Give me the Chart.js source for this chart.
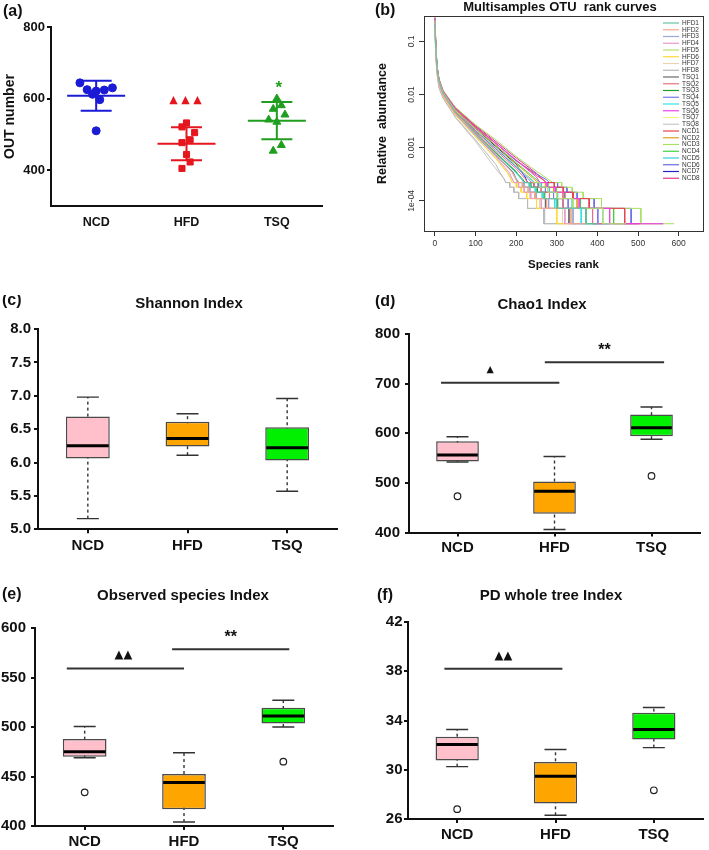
<!DOCTYPE html>
<html>
<head>
<meta charset="utf-8">
<script src="https://cdn.jsdelivr.net/npm/chart.js@4.4.0/dist/chart.umd.min.js"></script>
<style>
html, body { margin:0; padding:0; background:#fff; }
body { width:709px; height:850px; position:relative; overflow:hidden; }
canvas { position:absolute; }
</style>
</head>
<body>
<canvas id="cA" width="340" height="240" style="left:0px;top:0px"></canvas>
<canvas id="cB" width="359" height="280" style="left:350px;top:0px"></canvas>
<canvas id="cC" width="345" height="265" style="left:0px;top:295px"></canvas>
<canvas id="cD" width="359" height="265" style="left:350px;top:295px"></canvas>
<canvas id="cE" width="345" height="265" style="left:0px;top:585px"></canvas>
<canvas id="cF" width="359" height="265" style="left:350px;top:585px"></canvas>
<script>
const groups = ['NCD', 'HFD', 'TSQ'];
const boxColors = ['#ffc0cb', '#ffa500', '#00f000'];

// (a) OTU number per mouse
const otuNCD = [644, 625, 621, 624, 630, 612, 597, 510];
const otuHFD = [532, 521, 505, 485, 477, 444, 423, 405];
const otuTSQ = [600, 571, 581, 555, 541, 535, 470, 454];
// horizontal spread of the dots inside each column (category units)
const jitNCD = [-0.18, -0.1, 0, 0.09, 0.18, -0.04, 0.04, 0];
const jitHFD = [0, -0.05, 0.09, 0.04, -0.05, 0, 0.04, -0.05];
const jitTSQ = [0, -0.04, 0.05, 0.09, -0.09, 0, 0.05, -0.04];
const otuTicks = [400, 600, 800];

// (b) rank abundance curves, [rank, relative abundance]
const sampleNames = ['HFD1','HFD2','HFD3','HFD4','HFD5','HFD6','HFD7','HFD8',
  'TSQ1','TSQ2','TSQ3','TSQ4','TSQ5','TSQ6','TSQ7','TSQ8',
  'NCD1','NCD2','NCD3','NCD4','NCD5','NCD6','NCD7','NCD8'];
const sampleColors = ['#66c2a5','#f7a88a','#9aa8d8','#e99ad0','#b2e06e','#ffd92f','#ecd2b4','#b8b8b8',
  '#6a6a6a','#e8727a','#1f9e2a','#7777ee','#33e3e3','#f040f0','#f6f08a','#c8c8c8',
  '#e8434b','#e0a020','#a8e060','#40d040','#30d0e0','#6a6ae6','#2424c8','#e0388a'];
const HFD1 = [[0,0.2],[2,0.07],[5,0.03],[10,0.017],[20,0.0105],[50,0.0047],[100,0.0019],[150,0.00082],[200,0.00036],[212,2.6e-4],[220,2.2e-4],[234,2.2e-4],[234,1.8e-4],[250,1.8e-4],[250,1.45e-4],[268,1.45e-4],[268,1.1e-4],[300,1.1e-4],[300,7.2e-5],[372,7.2e-5],[372,3.7e-5],[400,3.7e-5]];
const HFD2 = [[0,0.18],[2,0.065],[5,0.028],[10,0.016],[20,0.0098],[50,0.0045],[100,0.0018],[150,0.00075],[190,0.00034],[198,2.6e-4],[203,2.2e-4],[215,2.2e-4],[215,1.8e-4],[230,1.8e-4],[230,1.45e-4],[246,1.45e-4],[246,1.1e-4],[275,1.1e-4],[275,7.2e-5],[335,7.2e-5],[335,3.7e-5],[372,3.7e-5]];
const HFD3 = [[0,0.22],[2,0.075],[5,0.03],[10,0.017],[20,0.01],[50,0.0044],[100,0.0017],[150,0.0007],[190,0.00035],[200,2.6e-4],[207,2.2e-4],[220,2.2e-4],[220,1.8e-4],[234,1.8e-4],[234,1.45e-4],[250,1.45e-4],[250,1.1e-4],[280,1.1e-4],[280,7.2e-5],[340,7.2e-5],[340,3.7e-5],[380,3.7e-5]];
const HFD4 = [[0,0.16],[2,0.06],[5,0.027],[10,0.015],[20,0.0095],[50,0.0043],[100,0.0017],[150,0.00068],[183,0.00034],[190,2.6e-4],[195,2.2e-4],[206,2.2e-4],[206,1.8e-4],[220,1.8e-4],[220,1.45e-4],[236,1.45e-4],[236,1.1e-4],[262,1.1e-4],[262,7.2e-5],[320,7.2e-5],[320,3.7e-5],[350,3.7e-5]];
const HFD5 = [[0,0.25],[2,0.08],[5,0.032],[10,0.018],[20,0.011],[50,0.005],[100,0.0022],[150,0.001],[200,0.00046],[232,2.7e-4],[242,2.2e-4],[258,2.2e-4],[258,1.8e-4],[278,1.8e-4],[278,1.45e-4],[300,1.45e-4],[300,1.1e-4],[340,1.1e-4],[340,7.2e-5],[413,7.2e-5],[413,3.7e-5],[470,3.7e-5]];
const HFD6 = [[0,0.17],[2,0.06],[5,0.026],[10,0.015],[20,0.0092],[50,0.0041],[100,0.0016],[150,0.00062],[178,0.00034],[186,2.6e-4],[190,2.2e-4],[200,2.2e-4],[200,1.8e-4],[212,1.8e-4],[212,1.45e-4],[226,1.45e-4],[226,1.1e-4],[250,1.1e-4],[250,7.2e-5],[300,7.2e-5],[300,3.7e-5],[330,3.7e-5]];
const HFD7 = [[0,0.19],[2,0.068],[5,0.028],[10,0.016],[20,0.0096],[50,0.0042],[100,0.0016],[150,0.00064],[180,0.00034],[190,2.6e-4],[194,2.2e-4],[205,2.2e-4],[205,1.8e-4],[218,1.8e-4],[218,1.45e-4],[234,1.45e-4],[234,1.1e-4],[258,1.1e-4],[258,7.2e-5],[314,7.2e-5],[314,3.7e-5],[345,3.7e-5]];
const HFD8 = [[0,0.15],[2,0.055],[5,0.024],[10,0.013],[20,0.0085],[50,0.0038],[100,0.0014],[150,0.00048],[160,0.00034],[170,2.6e-4],[174,2.2e-4],[184,2.2e-4],[184,1.8e-4],[194,1.8e-4],[194,1.45e-4],[206,1.45e-4],[206,1.1e-4],[228,1.1e-4],[228,7.2e-5],[268,7.2e-5],[268,3.7e-5],[315,3.7e-5]];
const TSQ1 = [[0,0.21],[2,0.07],[5,0.029],[10,0.016],[20,0.0098],[50,0.0045],[100,0.0018],[150,0.00074],[192,0.00035],[200,2.6e-4],[204,2.2e-4],[216,2.2e-4],[216,1.8e-4],[230,1.8e-4],[230,1.45e-4],[246,1.45e-4],[246,1.1e-4],[272,1.1e-4],[272,7.2e-5],[330,7.2e-5],[330,3.7e-5],[372,3.7e-5]];
const TSQ2 = [[0,0.24],[2,0.078],[5,0.031],[10,0.017],[20,0.0104],[50,0.0048],[100,0.002],[150,0.00088],[200,0.0004],[222,2.6e-4],[228,2.2e-4],[244,2.2e-4],[244,1.8e-4],[262,1.8e-4],[262,1.45e-4],[282,1.45e-4],[282,1.1e-4],[316,1.1e-4],[316,7.2e-5],[388,7.2e-5],[388,3.7e-5],[420,3.7e-5]];
const TSQ3 = [[0,0.2],[2,0.07],[5,0.03],[10,0.017],[20,0.01],[50,0.0046],[100,0.0019],[150,0.0008],[198,0.00036],[215,2.6e-4],[222,2.2e-4],[236,2.2e-4],[236,1.8e-4],[252,1.8e-4],[252,1.45e-4],[270,1.45e-4],[270,1.1e-4],[302,1.1e-4],[302,7.2e-5],[372,7.2e-5],[372,3.7e-5],[400,3.7e-5]];
const TSQ4 = [[0,0.26],[2,0.082],[5,0.033],[10,0.018],[20,0.011],[50,0.005],[100,0.0021],[150,0.00095],[200,0.00043],[230,2.6e-4],[238,2.2e-4],[254,2.2e-4],[254,1.8e-4],[272,1.8e-4],[272,1.45e-4],[292,1.45e-4],[292,1.1e-4],[328,1.1e-4],[328,7.2e-5],[401,7.2e-5],[401,3.7e-5],[430,3.7e-5]];
const TSQ5 = [[0,0.22],[2,0.072],[5,0.03],[10,0.016],[20,0.0098],[50,0.0045],[100,0.0018],[150,0.00078],[196,0.00036],[212,2.6e-4],[219,2.2e-4],[232,2.2e-4],[232,1.8e-4],[247,1.8e-4],[247,1.45e-4],[264,1.45e-4],[264,1.1e-4],[295,1.1e-4],[295,7.2e-5],[360,7.2e-5],[360,3.7e-5],[410,3.7e-5]];
const TSQ6 = [[0,0.28],[2,0.09],[5,0.034],[10,0.019],[20,0.0115],[50,0.0054],[100,0.0024],[150,0.0012],[200,0.00058],[250,2.8e-4],[258,2.2e-4],[276,2.2e-4],[276,1.8e-4],[296,1.8e-4],[296,1.45e-4],[318,1.45e-4],[318,1.1e-4],[355,1.1e-4],[355,7.2e-5],[430,7.2e-5],[430,3.7e-5],[562,3.7e-5]];
const TSQ7 = [[0,0.17],[2,0.062],[5,0.026],[10,0.015],[20,0.0093],[50,0.0042],[100,0.0016],[150,0.00062],[178,0.00034],[188,2.6e-4],[194,2.2e-4],[205,2.2e-4],[205,1.8e-4],[218,1.8e-4],[218,1.45e-4],[234,1.45e-4],[234,1.1e-4],[258,1.1e-4],[258,7.2e-5],[314,7.2e-5],[314,3.7e-5],[335,3.7e-5]];
const TSQ8 = [[0,0.16],[2,0.058],[5,0.025],[10,0.014],[20,0.0086],[50,0.0037],[100,0.0013],[140,0.0005],[160,0.00032],[170,2.6e-4],[175,2.2e-4],[184,2.2e-4],[184,1.8e-4],[194,1.8e-4],[194,1.45e-4],[206,1.45e-4],[206,1.1e-4],[228,1.1e-4],[228,7.2e-5],[270,7.2e-5],[270,3.7e-5],[320,3.7e-5]];
const NCD1 = [[0,0.27],[2,0.088],[5,0.034],[10,0.019],[20,0.0115],[50,0.0055],[100,0.0025],[150,0.0012],[200,0.00058],[250,3e-4],[266,2.5e-4],[274,2.2e-4],[294,2.2e-4],[294,1.8e-4],[316,1.8e-4],[316,1.45e-4],[340,1.45e-4],[340,1.1e-4],[380,1.1e-4],[380,7.2e-5],[467,7.2e-5],[467,3.7e-5],[505,3.7e-5]];
const NCD2 = [[0,0.25],[2,0.082],[5,0.032],[10,0.018],[20,0.011],[50,0.0052],[100,0.0023],[150,0.0011],[200,0.0005],[240,2.7e-4],[254,2.2e-4],[272,2.2e-4],[272,1.8e-4],[292,1.8e-4],[292,1.45e-4],[314,1.45e-4],[314,1.1e-4],[350,1.1e-4],[350,7.2e-5],[430,7.2e-5],[430,3.7e-5],[470,3.7e-5]];
const NCD3 = [[0,0.3],[2,0.095],[5,0.036],[10,0.02],[20,0.012],[50,0.0058],[100,0.0027],[150,0.0014],[200,0.00068],[250,3.6e-4],[280,2.5e-4],[290,2.2e-4],[312,2.2e-4],[312,1.8e-4],[338,1.8e-4],[338,1.45e-4],[365,1.45e-4],[365,1.1e-4],[410,1.1e-4],[410,7.2e-5],[507,7.2e-5],[507,3.7e-5],[589,3.7e-5]];
const NCD4 = [[0,0.26],[2,0.085],[5,0.033],[10,0.018],[20,0.0112],[50,0.0053],[100,0.0024],[150,0.0011],[200,0.00052],[245,2.7e-4],[260,2.2e-4],[278,2.2e-4],[278,1.8e-4],[298,1.8e-4],[298,1.45e-4],[320,1.45e-4],[320,1.1e-4],[358,1.1e-4],[358,7.2e-5],[440,7.2e-5],[440,3.7e-5],[485,3.7e-5]];
const NCD5 = [[0,0.23],[2,0.078],[5,0.031],[10,0.017],[20,0.0105],[50,0.0049],[100,0.0021],[150,0.00095],[200,0.00044],[236,2.6e-4],[246,2.2e-4],[262,2.2e-4],[262,1.8e-4],[282,1.8e-4],[282,1.45e-4],[302,1.45e-4],[302,1.1e-4],[338,1.1e-4],[338,7.2e-5],[413,7.2e-5],[413,3.7e-5],[470,3.7e-5]];
const NCD6 = [[0,0.27],[2,0.088],[5,0.034],[10,0.019],[20,0.0113],[50,0.0054],[100,0.0025],[150,0.0012],[200,0.00056],[250,3.2e-4],[274,2.5e-4],[282,2.2e-4],[302,2.2e-4],[302,1.8e-4],[325,1.8e-4],[325,1.45e-4],[350,1.45e-4],[350,1.1e-4],[392,1.1e-4],[392,7.2e-5],[483,7.2e-5],[483,3.7e-5],[500,3.7e-5]];
const NCD7 = [[0,0.24],[2,0.08],[5,0.032],[10,0.018],[20,0.011],[50,0.0051],[100,0.0023],[150,0.00105],[200,0.00049],[222,2.8e-4],[228,2.2e-4],[244,2.2e-4],[244,1.8e-4],[262,1.8e-4],[262,1.45e-4],[282,1.45e-4],[282,1.1e-4],[316,1.1e-4],[316,7.2e-5],[388,7.2e-5],[388,3.7e-5],[430,3.7e-5]];
const NCD8 = [[0,0.28],[2,0.092],[5,0.035],[10,0.019],[20,0.0118],[50,0.0057],[100,0.0026],[150,0.0013],[200,0.00064],[250,3.3e-4],[266,2.5e-4],[274,2.2e-4],[294,2.2e-4],[294,1.8e-4],[316,1.8e-4],[316,1.45e-4],[340,1.45e-4],[340,1.1e-4],[380,1.1e-4],[380,7.2e-5],[467,7.2e-5],[467,3.7e-5],[562,3.7e-5]];
const rankCurves = [HFD1,HFD2,HFD3,HFD4,HFD5,HFD6,HFD7,HFD8,TSQ1,TSQ2,TSQ3,TSQ4,TSQ5,TSQ6,TSQ7,TSQ8,NCD1,NCD2,NCD3,NCD4,NCD5,NCD6,NCD7,NCD8];
const rankTicks = [0, 100, 200, 300, 400, 500, 600];
const abundTicks = [1e-4, 1e-3, 1e-2, 0.1];
const abundLabels = ['1e-04', '0.001', '0.01', '0.1'];

// (c) Shannon
const shMin = [5.16, 6.11, 5.57];
const shQ1 = [6.06, 6.24, 6.03];
const shMed = [6.25, 6.36, 6.22];
const shQ3 = [6.69, 6.61, 6.53];
const shMax = [6.98, 6.73, 6.96];
const shOut = [null, null, null];
const shTicks = [5, 5.5, 6, 6.5, 7, 7.5, 8];

// (d) Chao1
const chMin = [542, 406, 588];
const chQ1 = [543, 438, 594];
const chMed = [556, 483, 611];
const chQ3 = [584, 503, 638];
const chMax = [593, 553, 653];
const chOut = [473, null, 514];
const chTicks = [400, 500, 600, 700, 800];

// (e) Observed species
const obMin = [469, 404, 500];
const obQ1 = [470, 417, 503.5];
const obMed = [475, 444, 511];
const obQ3 = [488, 452.5, 519.5];
const obMax = [500.5, 474, 527];
const obOut = [434, null, 465];
const obTicks = [400, 450, 500, 550, 600];

// (f) PD whole tree
const pdMin = [30.25, 26.3, 31.8];
const pdQ1 = [30.76, 27.25, 32.46];
const pdMed = [32.05, 29.48, 33.27];
const pdQ3 = [32.68, 30.62, 34.62];
const pdMax = [33.27, 31.65, 35.05];
const pdOut = [26.8, null, 28.33];
const pdTicks = [26, 30, 34, 38, 42];

Chart.defaults.font.family = '"Liberation Sans", Arial, sans-serif';
Chart.defaults.color = '#111';

const BOLD = '"Liberation Sans", Arial, sans-serif';
const TRI = '"DejaVu Sans", sans-serif';

// panel letter and title
Chart.register({
  id: 'panel',
  afterDraw(chart, args, o) {
    if (!o.letter) return;
    const ctx = chart.ctx;
    ctx.save();
    ctx.fillStyle = '#111';
    ctx.textBaseline = 'middle';
    ctx.textAlign = 'left';
    ctx.font = 'bold 16px ' + BOLD;
    ctx.fillText(o.letter, o.lx, o.ly);
    if (o.title) {
      ctx.textAlign = 'center';
      ctx.font = 'bold ' + (o.size || 15) + 'px ' + BOLD;
      ctx.fillText(o.title, o.tx, o.ty);
    }
    ctx.restore();
  }
});

// whiskers, caps and medians for the box plots
Chart.register({
  id: 'boxExtras',
  beforeDatasetsDraw(chart, args, o) {
    if (!o.min) return;
    const {ctx, scales: {x, y}} = chart;
    ctx.save();
    ctx.strokeStyle = '#333';
    ctx.lineWidth = 1.4;
    o.min.forEach((lo, i) => {
      const cx = x.getPixelForValue(i);
      const y0 = y.getPixelForValue(lo), y1 = y.getPixelForValue(o.max[i]);
      ctx.setLineDash([3, 3]);
      ctx.beginPath(); ctx.moveTo(cx, y0); ctx.lineTo(cx, y1); ctx.stroke();
      ctx.setLineDash([]);
      ctx.beginPath();
      ctx.moveTo(cx - 11, y0); ctx.lineTo(cx + 11, y0);
      ctx.moveTo(cx - 11, y1); ctx.lineTo(cx + 11, y1);
      ctx.stroke();
    });
    ctx.restore();
  },
  afterDatasetsDraw(chart, args, o) {
    if (!o.med) return;
    const {ctx, scales: {x, y}} = chart;
    const bars = chart.getDatasetMeta(1).data;
    ctx.save();
    ctx.strokeStyle = '#000';
    ctx.lineWidth = 3;
    o.med.forEach((m, i) => {
      const cx = x.getPixelForValue(i), w = bars[i].width / 2 - 1;
      const py = y.getPixelForValue(m);
      ctx.beginPath(); ctx.moveTo(cx - w, py); ctx.lineTo(cx + w, py); ctx.stroke();
    });
    ctx.restore();
  }
});

// significance bars and marks
Chart.register({
  id: 'sigBars',
  afterDatasetsDraw(chart, args, o) {
    if (!o.items) return;
    const {ctx, scales: {x, y}} = chart;
    o.items.forEach(it => {
      const py = y.getPixelForValue(it.y);
      let cx;
      ctx.save();
      if (it.to !== undefined) {
        const x0 = x.getPixelForValue(it.from), x1 = x.getPixelForValue(it.to);
        ctx.strokeStyle = '#333';
        ctx.lineWidth = 2;
        ctx.beginPath(); ctx.moveTo(x0, py); ctx.lineTo(x1, py); ctx.stroke();
        cx = (x0 + x1) / 2;
      } else {
        cx = x.getPixelForValue(it.at);
      }
      ctx.fillStyle = it.color || '#111';
      ctx.font = it.font;
      ctx.textAlign = 'center';
      ctx.textBaseline = 'alphabetic';
      ctx.fillText(it.label, cx + (it.dx || 0), py - it.dy);
      ctx.restore();
    });
  }
});

// mean and SD bars for panel (a)
Chart.register({
  id: 'meanSd',
  afterDatasetsDraw(chart, args, o) {
    if (!o.sets) return;
    const {ctx, scales: {x, y}} = chart;
    o.sets.forEach((s, i) => {
      const v = s.values, n = v.length;
      const mean = v.reduce((a, b) => a + b, 0) / n;
      const sd = Math.sqrt(v.reduce((a, b) => a + (b - mean) * (b - mean), 0) / (n - 1));
      const cx = x.getPixelForValue(i + 1);
      const pm = y.getPixelForValue(mean), pt = y.getPixelForValue(mean + sd), pb = y.getPixelForValue(mean - sd);
      ctx.save();
      ctx.strokeStyle = s.color;
      ctx.lineWidth = 2;
      ctx.beginPath();
      ctx.moveTo(cx - 29, pm); ctx.lineTo(cx + 29, pm);
      ctx.moveTo(cx - 15.5, pt); ctx.lineTo(cx + 15.5, pt);
      ctx.moveTo(cx - 15.5, pb); ctx.lineTo(cx + 15.5, pb);
      ctx.moveTo(cx, pt); ctx.lineTo(cx, pb);
      ctx.stroke();
      ctx.restore();
    });
  }
});

// legend inside the plot and the box frame for panel (b)
Chart.register({
  id: 'rankLegend',
  afterDraw(chart, args, o) {
    if (!o.names) return;
    const {ctx, chartArea: a} = chart;
    ctx.save();
    ctx.strokeStyle = '#333';
    ctx.lineWidth = 1;
    ctx.strokeRect(a.left + 0.5, a.top + 0.5, a.right - a.left, a.bottom - a.top);
    ctx.font = '6.5px ' + BOLD;
    ctx.textBaseline = 'middle';
    ctx.textAlign = 'left';
    o.names.forEach((n, i) => {
      const yy = o.y + i * o.step;
      ctx.strokeStyle = o.colors[i];
      ctx.lineWidth = 1.2;
      ctx.beginPath(); ctx.moveTo(o.x, yy); ctx.lineTo(o.x + 16, yy); ctx.stroke();
      ctx.fillStyle = '#333';
      ctx.fillText(n, o.x + 19, yy);
    });
    ctx.restore();
  }
});

// ---------- (a) ----------
function pts(vals, jit, center) {
  return vals.map((v, i) => ({x: center + jit[i], y: v}));
}
new Chart(document.getElementById('cA'), {
  type: 'scatter',
  data: {
    datasets: [
      {data: pts(otuNCD, jitNCD, 1), pointStyle: 'circle', pointRadius: 4, backgroundColor: '#1b1bd6', borderColor: '#1b1bd6'},
      {data: pts(otuHFD, jitHFD, 2), pointStyle: 'rect', pointRadius: 4.3, backgroundColor: '#e5161e', borderColor: '#e5161e'},
      {data: pts(otuTSQ, jitTSQ, 3), pointStyle: 'triangle', pointRadius: 4.6, backgroundColor: '#1f9e1f', borderColor: '#1f9e1f'}
    ]
  },
  options: {
    responsive: false,
    animation: false,
    layout: {padding: {top: 27, right: 18, left: 0, bottom: 0}},
    plugins: {
      legend: {display: false},
      tooltip: {enabled: false},
      panel: {letter: '(a)', lx: 3, ly: 12},
      meanSd: {sets: [
        {values: otuNCD, color: '#1b1bd6'},
        {values: otuHFD, color: '#e5161e'},
        {values: otuTSQ, color: '#1f9e1f'}
      ]},
      sigBars: {items: [
        {at: 2, y: 600, label: '▲ ▲ ▲', font: '11px ' + TRI, color: '#e5161e', dy: -4, dx: -1},
        {at: 3, y: 642, label: '*', font: 'bold 17px ' + BOLD, color: '#1f9e1f', dy: -9, dx: 2}
      ]}
    },
    scales: {
      x: {
        type: 'linear', min: 0.5, max: 3.5,
        afterBuildTicks: s => { s.ticks = [1, 2, 3].map(v => ({value: v})); },
        ticks: {callback: v => groups[v - 1], font: {size: 12.5, weight: 'bold'}, color: '#111', padding: 1},
        grid: {display: false},
        border: {color: '#111', width: 2},
        afterFit: s => { s.height = 34; }
      },
      y: {
        min: 300, max: 800,
        afterBuildTicks: s => { s.ticks = otuTicks.map(v => ({value: v})); },
        ticks: {font: {size: 13, weight: 'bold'}, color: '#111', padding: 2},
        grid: {drawOnChartArea: false, tickLength: 4, color: '#111', lineWidth: 2},
        border: {color: '#111', width: 2},
        title: {display: true, text: 'OUT number', font: {size: 14, weight: 'bold'}, color: '#111', padding: {top: 2, bottom: 0}},
        afterFit: s => { s.width = 51; }
      }
    }
  }
});

// ---------- (b) ----------
new Chart(document.getElementById('cB'), {
  type: 'scatter',
  data: {
    datasets: rankCurves.map((c, i) => ({
      label: sampleNames[i],
      data: c.map(p => ({x: p[0], y: p[1]})),
      showLine: true,
      borderColor: sampleColors[i],
      borderWidth: 1,
      pointRadius: 0,
      tension: 0
    }))
  },
  options: {
    responsive: false,
    animation: false,
    layout: {padding: {top: 16, right: 6, left: 0, bottom: 0}},
    plugins: {
      legend: {display: false},
      tooltip: {enabled: false},
      panel: {letter: '(b)', lx: 25, ly: 11, title: 'Multisamples OTU  rank curves', tx: 210, ty: 7, size: 13},
      rankLegend: {names: sampleNames, colors: sampleColors, x: 313, y: 23, step: 6.75}
    },
    scales: {
      x: {
        type: 'linear', min: -27, max: 660,
        afterBuildTicks: s => { s.ticks = rankTicks.map(v => ({value: v})); },
        ticks: {font: {size: 8.5}, color: '#333', padding: 3},
        grid: {drawOnChartArea: false, tickLength: 5, color: '#333'},
        border: {display: false},
        title: {display: true, text: 'Species rank', font: {size: 11.5, weight: 'bold'}, color: '#111', padding: {top: 0, bottom: 8}},
        afterFit: s => { s.height = 49; }
      },
      y: {
        type: 'logarithmic', min: 2.7e-5, max: 0.3,
        afterBuildTicks: s => { s.ticks = abundTicks.map(v => ({value: v})); },
        ticks: {callback: (v, i) => abundLabels[i], font: {size: 8.5}, color: '#333', minRotation: 90, maxRotation: 90, crossAlign: 'center', padding: -4},
        grid: {drawOnChartArea: false, tickLength: 5, color: '#333'},
        border: {display: false},
        title: {display: true, text: 'Relative  abundance', font: {size: 12.5, weight: 'bold'}, color: '#111', padding: {top: 25, bottom: 0}},
        afterFit: s => { s.width = 74; }
      }
    }
  }
});

// ---------- box plots ----------
function boxChart(id, st, o) {
  return new Chart(document.getElementById(id), {
    type: 'bar',
    data: {
      labels: groups,
      datasets: [
        {type: 'line', data: st.out, showLine: false, pointRadius: 3.3, pointBorderWidth: 1.2,
         pointBackgroundColor: '#fff', pointBorderColor: '#222', order: 0},
        {data: st.q1.map((v, i) => [v, st.q3[i]]), backgroundColor: boxColors, borderColor: '#4a4a4a',
         borderWidth: 1.5, borderSkipped: false, barPercentage: 0.44, categoryPercentage: 1, order: 1}
      ]
    },
    options: {
      responsive: false,
      animation: false,
      layout: {padding: {top: o.top, right: o.right, left: 0, bottom: 0}},
      plugins: {
        legend: {display: false},
        tooltip: {enabled: false},
        panel: o.panel,
        boxExtras: {min: st.min, med: st.med, max: st.max},
        sigBars: {items: o.sig}
      },
      scales: {
        x: {
          grid: {offset: false, drawOnChartArea: false, tickLength: 4, color: '#111', lineWidth: 2},
          border: {color: '#111', width: 2},
          ticks: {font: {size: 15, weight: 'bold'}, color: '#111', padding: o.xpad},
          afterFit: s => { s.height = o.xh; }
        },
        y: {
          min: o.ticks[0], max: o.ticks[o.ticks.length - 1],
          afterBuildTicks: s => { s.ticks = o.ticks.map(v => ({value: v})); },
          ticks: {callback: v => v.toFixed(o.dec), font: {size: 15, weight: 'bold'}, color: '#111', padding: o.ypad},
          grid: {drawOnChartArea: false, tickLength: 4, color: '#111', lineWidth: 2},
          border: {color: '#111', width: 2},
          afterFit: s => { s.width = o.yw; }
        }
      }
    }
  });
}

boxChart('cC', {min: shMin, q1: shQ1, med: shMed, q3: shQ3, max: shMax, out: shOut}, {
  top: 34, right: 8, xh: 30.7, yw: 38, xpad: 3.5, ypad: 3, dec: 1, ticks: shTicks,
  panel: {letter: '(c)', lx: 2, ly: 6, title: 'Shannon Index', tx: 189, ty: 9},
  sig: []
});

boxChart('cD', {min: chMin, q1: chQ1, med: chMed, q3: chQ3, max: chMax, out: chOut}, {
  top: 39, right: 9, xh: 27.5, yw: 59, xpad: 2.5, ypad: 5, dec: 0, ticks: chTicks,
  panel: {letter: '(d)', lx: 25, ly: 7, title: 'Chao1 Index', tx: 192, ty: 10},
  sig: [
    {from: -0.17, to: 1.05, y: 702, label: '▲', font: '9.5px ' + TRI, dy: 11, dx: -10},
    {from: 0.9, to: 2.13, y: 743, label: '**', font: 'bold 16px ' + BOLD, dy: 7}
  ]
});

boxChart('cE', {min: obMin, q1: obQ1, med: obMed, q3: obQ3, max: obMax, out: obOut}, {
  top: 43, right: 12, xh: 24, yw: 35, xpad: 3, ypad: 5, dec: 0, ticks: obTicks,
  panel: {letter: '(e)', lx: 2, ly: 10, title: 'Observed species Index', tx: 183, ty: 11},
  sig: [
    {from: -0.18, to: 1.0, y: 559, label: '▲▲', font: '11.5px ' + TRI, dy: 10.5, dx: -2},
    {from: 0.88, to: 2.06, y: 578.6, label: '**', font: 'bold 16px ' + BOLD, dy: 7}
  ]
});

boxChart('cF', {min: pdMin, q1: pdQ1, med: pdMed, q3: pdQ3, max: pdMax, out: pdOut}, {
  top: 37, right: 6, xh: 31, yw: 58, xpad: 3, ypad: 1.5, dec: 0, ticks: pdTicks,
  panel: {letter: '(f)', lx: 27, ly: 11, title: 'PD whole tree Index', tx: 201, ty: 11},
  sig: [
    {from: -0.13, to: 1.07, y: 38.2, label: '▲▲', font: '11.5px ' + TRI, dy: 10}
  ]
});
</script>
</body>
</html>
